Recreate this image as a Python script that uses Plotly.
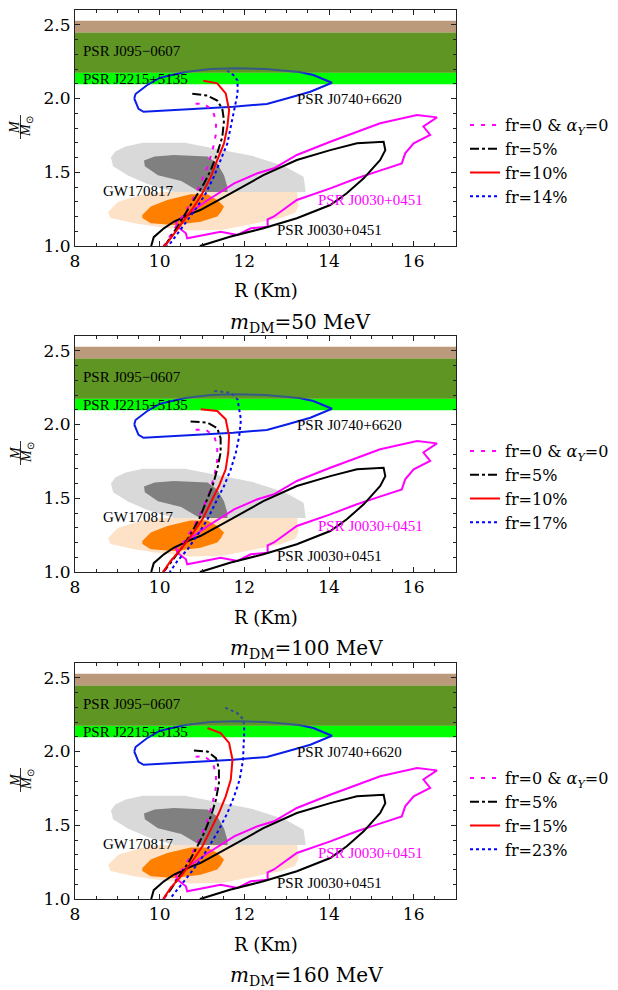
import plotly.graph_objects as go

FONT = "Liberation Serif, Times New Roman, serif"
FONT_W = "DejaVu Serif, Liberation Serif, serif"

# ---------------- data ----------------
R_RANGE = [8, 17]
M_RANGE = [1.0, 2.6]

BAND_BROWN = [2.445, 2.527]
BAND_OLIVE = [2.175, 2.445]
BAND_GREEN = [2.097, 2.175]

GW_LGRAY_R = [8.85, 8.90, 9.24, 9.71, 10.34, 13.45, 13.40, 12.95, 12.20, 11.35, 10.60, 9.60, 9.20, 8.95, 8.85]
GW_LGRAY_M = [1.60, 1.54, 1.48, 1.42, 1.366, 1.366, 1.47, 1.54, 1.61, 1.66, 1.70, 1.70, 1.675, 1.64, 1.60]

GW_DGRAY_R = [9.63, 9.65, 9.96, 10.51, 10.95, 11.60, 11.60, 11.52, 11.36, 11.13, 10.34, 9.88, 9.63]
GW_DGRAY_M = [1.58, 1.54, 1.48, 1.44, 1.366, 1.366, 1.40, 1.48, 1.56, 1.606, 1.617, 1.606, 1.58]

GW_LORANGE_R = [8.78, 8.84, 9.40, 9.95, 10.73, 11.50, 12.06, 12.85, 13.20, 13.28, 13.25, 10.05, 9.55, 9.02, 8.78]
GW_LORANGE_M = [1.23, 1.19, 1.155, 1.13, 1.105, 1.11, 1.142, 1.188, 1.225, 1.27, 1.366, 1.366, 1.345, 1.30, 1.23]

GW_ORANGE_R = [9.59, 9.79, 10.18, 10.73, 11.13, 11.36, 11.52, 11.45, 11.36, 10.97, 10.34, 9.79, 9.59, 9.59]
GW_ORANGE_M = [1.21, 1.267, 1.312, 1.350, 1.350, 1.312, 1.267, 1.23, 1.20, 1.165, 1.142, 1.154, 1.19, 1.21]

J0740_R = [9.40, 9.43, 9.70, 10.0, 10.6, 11.2, 11.8, 12.5, 13.3, 13.63, 14.07, 13.79, 13.56, 13.0, 12.53, 11.74, 10.5, 9.62, 9.50, 9.40]
J0740_M = [2.00, 2.03, 2.09, 2.14, 2.18, 2.20, 2.205, 2.20, 2.18, 2.159, 2.107, 2.076, 2.046, 2.0, 1.963, 1.944, 1.925, 1.91, 1.93, 2.00]

J0030_MAG_R = [10.38, 10.58, 11.13, 11.76, 12.31, 12.70, 13.24, 14.03, 15.21, 16.08, 16.55, 16.23, 16.39, 16.00, 15.80,
               15.72, 15.13, 14.66, 14.03, 13.24, 12.70, 12.55, 12.55, 12.15, 11.84, 11.44, 11.05, 10.65, 10.62, 10.42, 10.38]
J0030_MAG_M = [1.165, 1.20, 1.31, 1.425, 1.493, 1.527, 1.617, 1.707, 1.832, 1.888, 1.872, 1.81, 1.753, 1.696, 1.628,
               1.56, 1.504, 1.459, 1.391, 1.312, 1.20, 1.18, 1.13, 1.12, 1.075, 1.097, 1.075, 1.052, 1.086, 1.131, 1.165]

J0030_BLK_R = [9.80, 9.83, 9.86, 10.10, 10.34, 10.74, 10.96, 11.70, 12.45, 13.24, 14.03, 14.66, 15.29, 15.33, 15.21,
               14.82, 14.42, 14.03, 13.24, 12.45, 11.66, 11.03, 10.95]
J0030_BLK_M = [1.0, 1.03, 1.06, 1.12, 1.166, 1.22, 1.244, 1.36, 1.48, 1.583, 1.65, 1.696, 1.707, 1.65, 1.583,
               1.459, 1.357, 1.278, 1.188, 1.12, 1.063, 1.007, 1.0]

# panel 1 (m_DM = 50 MeV)
P1_MAG_R = [10.85, 11.05, 11.25, 11.33, 11.33, 11.25, 11.13, 10.97, 10.77, 10.58, 10.34, 10.14, 10.10]
P1_MAG_M = [1.964, 1.964, 1.92, 1.85, 1.76, 1.65, 1.538, 1.425, 1.31, 1.222, 1.108, 1.018, 1.0]
P1_BLK_R = [10.77, 11.13, 11.36, 11.48, 11.52, 11.48, 11.36, 11.21, 11.05, 10.85, 10.66, 10.42, 10.18, 10.12]
P1_BLK_M = [2.032, 2.02, 1.986, 1.93, 1.85, 1.74, 1.628, 1.515, 1.425, 1.335, 1.244, 1.131, 1.03, 1.0]
P1_RED_R = [11.03, 11.36, 11.56, 11.64, 11.60, 11.52, 11.36, 11.21, 11.01, 10.81, 10.58, 10.34, 10.14, 10.08]
P1_RED_M = [2.121, 2.103, 2.035, 1.922, 1.81, 1.696, 1.583, 1.47, 1.357, 1.267, 1.176, 1.085, 1.006, 1.0]
P1_BLU_R = [11.59, 11.74, 11.84, 11.84, 11.76, 11.68, 11.60, 11.44, 11.28, 11.09, 10.89, 10.66, 10.42, 10.22, 10.18]
P1_BLU_M = [2.19, 2.16, 2.122, 2.032, 1.922, 1.81, 1.696, 1.583, 1.47, 1.357, 1.267, 1.176, 1.085, 1.006, 1.0]

# panel 2 (m_DM = 100 MeV)
P2_MAG_R = [10.85, 11.09, 11.29, 11.36, 11.36, 11.29, 11.17, 11.01, 10.81, 10.58, 10.34, 10.14, 10.10]
P2_MAG_M = [1.964, 1.964, 1.92, 1.85, 1.76, 1.65, 1.538, 1.425, 1.31, 1.21, 1.108, 1.018, 1.0]
P2_BLK_R = [10.73, 11.13, 11.36, 11.44, 11.44, 11.36, 11.25, 11.09, 10.93, 10.73, 10.50, 10.26, 10.10, 10.08]
P2_BLK_M = [2.02, 2.013, 1.975, 1.907, 1.81, 1.696, 1.583, 1.47, 1.357, 1.256, 1.154, 1.063, 1.006, 1.0]
P2_RED_R = [10.97, 11.36, 11.56, 11.64, 11.62, 11.56, 11.40, 11.21, 11.01, 10.77, 10.50, 10.26, 10.10, 10.08]
P2_RED_M = [2.103, 2.092, 2.035, 1.922, 1.81, 1.696, 1.583, 1.47, 1.357, 1.256, 1.154, 1.075, 1.006, 1.0]
P2_BLU_R = [11.29, 11.68, 11.84, 11.92, 11.88, 11.80, 11.68, 11.52, 11.32, 11.13, 10.93, 10.66, 10.42, 10.26, 10.24]
P2_BLU_M = [2.227, 2.216, 2.17, 2.032, 1.922, 1.81, 1.696, 1.583, 1.47, 1.357, 1.267, 1.154, 1.075, 1.006, 1.0]

# panel 3 (m_DM = 160 MeV)
P3_MAG_R = [10.85, 11.05, 11.25, 11.33, 11.33, 11.25, 11.13, 10.97, 10.77, 10.58, 10.34, 10.14, 10.10]
P3_MAG_M = [1.964, 1.968, 1.925, 1.85, 1.76, 1.65, 1.538, 1.425, 1.31, 1.222, 1.108, 1.018, 1.0]
P3_BLK_R = [10.81, 11.13, 11.33, 11.40, 11.40, 11.33, 11.21, 11.05, 10.89, 10.70, 10.46, 10.26, 10.10, 10.08]
P3_BLK_M = [2.007, 2.0, 1.955, 1.885, 1.787, 1.674, 1.56, 1.448, 1.357, 1.256, 1.154, 1.063, 1.006, 1.0]
P3_RED_R = [11.13, 11.44, 11.64, 11.72, 11.68, 11.56, 11.40, 11.21, 11.01, 10.77, 10.50, 10.26, 10.10, 10.08]
P3_RED_M = [2.159, 2.125, 2.058, 1.945, 1.81, 1.696, 1.583, 1.47, 1.357, 1.256, 1.154, 1.075, 1.006, 1.0]
P3_BLU_R = [11.55, 11.82, 11.98, 12.0, 11.98, 11.97, 11.89, 11.76, 11.60, 11.40, 11.17, 10.97, 10.70, 10.46, 10.26, 10.24]
P3_BLU_M = [2.297, 2.263, 2.218, 2.14, 2.026, 1.944, 1.81, 1.696, 1.583, 1.47, 1.357, 1.267, 1.165, 1.075, 1.006, 1.0]

LEGEND_P1 = ["fr=0 &amp; <i>α<sub>Y</sub></i>=0", "fr=5%", "fr=10%", "fr=14%"]
LEGEND_P2 = ["fr=0 &amp; <i>α<sub>Y</sub></i>=0", "fr=5%", "fr=10%", "fr=17%"]
LEGEND_P3 = ["fr=0 &amp; <i>α<sub>Y</sub></i>=0", "fr=5%", "fr=15%", "fr=23%"]
TITLES = ["<i>m</i><sub>DM</sub>=50 MeV", "<i>m</i><sub>DM</sub>=100 MeV", "<i>m</i><sub>DM</sub>=160 MeV"]

LABEL_TEXT = ["PSR J095−0607", "PSR J2215+5135", "PSR J0740+6620", "GW170817", "PSR J0030+0451", "PSR J0030+0451"]
LABEL_R = [8.15, 8.15, 13.2, 8.62, 13.7, 12.72]
LABEL_M = [2.32, 2.135, 2.0, 1.375, 1.31, 1.11]
LABEL_COLOR = ["black", "black", "black", "black", "#ff00ff", "black"]

PANELS = [
    (P1_MAG_R, P1_MAG_M, P1_BLK_R, P1_BLK_M, P1_RED_R, P1_RED_M, P1_BLU_R, P1_BLU_M, LEGEND_P1),
    (P2_MAG_R, P2_MAG_M, P2_BLK_R, P2_BLK_M, P2_RED_R, P2_RED_M, P2_BLU_R, P2_BLU_M, LEGEND_P2),
    (P3_MAG_R, P3_MAG_M, P3_BLK_R, P3_BLK_M, P3_RED_R, P3_RED_M, P3_BLU_R, P3_BLU_M, LEGEND_P3),
]

# ---------------- layout constants ----------------
# the page body has an 8px margin; positions below are page pixels
OFF = 8
W, H = 618 - OFF, 990 - OFF
X_LEFT, X_RIGHT = 75, 456
PANEL_TOP = [10, 336, 663]
PANEL_BOT = [246, 572, 899]


def px_x(p):
    return (p - OFF) / W


def px_y(p):
    return 1 - (p - OFF) / H


C_BROWN = "#bb9a7b"
C_OLIVE = "#5f9623"
C_GREEN = "#00ff00"

fig = go.Figure()


def band(lo_hi, color, xa, ya, opacity=1.0):
    lo, hi = lo_hi
    return go.Scatter(x=[R_RANGE[0], R_RANGE[1], R_RANGE[1], R_RANGE[0], R_RANGE[0]],
                      y=[lo, lo, hi, hi, lo], fill="toself", fillcolor=color, opacity=opacity,
                      mode="lines", line=dict(width=0, color=color), showlegend=False,
                      hoverinfo="skip", xaxis=xa, yaxis=ya)


def poly(R, M, color, xa, ya):
    return go.Scatter(x=R, y=M, fill="toself", fillcolor=color, mode="lines",
                      line=dict(width=0, color=color), showlegend=False,
                      hoverinfo="skip", xaxis=xa, yaxis=ya)


def contour(R, M, color, xa, ya):
    return go.Scatter(x=R, y=M, mode="lines", line=dict(width=2, color=color),
                      showlegend=False, hoverinfo="skip", xaxis=xa, yaxis=ya)


for i, p in enumerate(PANELS):
    xa = "x" if i == 0 else f"x{i+1}"
    ya = "y" if i == 0 else f"y{i+1}"
    lg = "legend" if i == 0 else f"legend{i+1}"
    magR, magM, blkR, blkM, redR, redM, bluR, bluM, names = p

    fig.add_trace(band(BAND_BROWN, C_BROWN, xa, ya))
    fig.add_trace(band(BAND_OLIVE, C_OLIVE, xa, ya))
    fig.add_trace(band(BAND_GREEN, C_GREEN, xa, ya))

    fig.add_trace(poly(GW_LGRAY_R, GW_LGRAY_M, "#d9d9d9", xa, ya))
    fig.add_trace(poly(GW_DGRAY_R, GW_DGRAY_M, "#808080", xa, ya))
    fig.add_trace(poly(GW_LORANGE_R, GW_LORANGE_M, "#fde2c8", xa, ya))
    fig.add_trace(poly(GW_ORANGE_R, GW_ORANGE_M, "#ff8000", xa, ya))

    fig.add_trace(contour(J0740_R, J0740_M, "#0a1ee8", xa, ya))
    fig.add_trace(contour(J0030_MAG_R, J0030_MAG_M, "#ff00ff", xa, ya))
    fig.add_trace(contour(J0030_BLK_R, J0030_BLK_M, "black", xa, ya))

    styles = [("#ff00ff", "4px,7px"), ("black", "dashdot"), ("#ff0000", "solid"), ("#0000ff", "3px,3px")]
    for (R, M), name, (col, dash) in zip([(magR, magM), (blkR, blkM), (redR, redM), (bluR, bluM)], names, styles):
        fig.add_trace(go.Scatter(x=R, y=M, mode="lines", name=name,
                                 line=dict(width=2, color=col, dash=dash),
                                 legend=lg, showlegend=True, hoverinfo="skip",
                                 xaxis=xa, yaxis=ya))

    # translucent olive overlay (lines under it look purple, as in the reference)
    fig.add_trace(band(BAND_OLIVE, C_OLIVE, xa, ya, opacity=0.5))

    for t, r, m, c in zip(LABEL_TEXT, LABEL_R, LABEL_M, LABEL_COLOR):
        fig.add_annotation(x=r, y=m, xref=xa, yref=ya, text=t, showarrow=False,
                           xanchor="left", yanchor="middle",
                           font=dict(family=FONT, size=15, color=c))

    ydom = [px_y(PANEL_BOT[i]), px_y(PANEL_TOP[i])]
    axis_common = dict(showline=True, linecolor="#222", linewidth=1, mirror="ticks",
                       ticks="inside", ticklen=5, tickwidth=1, tickcolor="#222",
                       showgrid=False, zeroline=False, automargin=False,
                       tickfont=dict(family=FONT_W, size=17, color="black"))
    fig.layout[("xaxis" if i == 0 else f"xaxis{i+1}")] = dict(
        domain=[px_x(X_LEFT), px_x(X_RIGHT)], range=R_RANGE, anchor=ya,
        tick0=8, dtick=2, minor=dict(dtick=0.5, ticks="inside", ticklen=3, tickcolor="#222"),
        **axis_common)
    fig.layout[("yaxis" if i == 0 else f"yaxis{i+1}")] = dict(
        domain=ydom, range=M_RANGE, anchor=xa, tick0=1.0, dtick=0.5, tickformat=".1f",
        minor=dict(dtick=0.1, ticks="inside", ticklen=3, tickcolor="#222"),
        **axis_common)

    fig.layout[lg] = dict(x=px_x(465), y=px_y(PANEL_TOP[i] + 98), xanchor="left", yanchor="top",
                          bgcolor="rgba(0,0,0,0)", itemwidth=30, tracegroupgap=0,
                          font=dict(family=FONT_W, size=16, color="black"))

    # axis title
    fig.add_annotation(x=px_x((X_LEFT + X_RIGHT) / 2), y=px_y(PANEL_BOT[i] + 45),
                       xref="paper", yref="paper", text="R (Km)", showarrow=False,
                       xanchor="center", yanchor="middle",
                       font=dict(family=FONT_W, size=18, color="black"))
    # panel caption
    fig.add_annotation(x=px_x(228), y=px_y(PANEL_BOT[i] + 77),
                       xref="paper", yref="paper", text=TITLES[i], showarrow=False,
                       xanchor="left", yanchor="middle",
                       font=dict(family=FONT_W, size=20, color="black"))
    # y-axis fraction label M / M_sun
    cy = PANEL_TOP[i] + 117
    fig.add_annotation(x=px_x(15), y=px_y(cy), xref="paper", yref="paper",
                       text="<i>M</i>", textangle=-90, showarrow=False,
                       xanchor="center", yanchor="middle",
                       font=dict(family=FONT, size=14, color="black"))
    fig.add_annotation(x=px_x(27), y=px_y(cy), xref="paper", yref="paper",
                       text="<i>M</i><sub>⊙</sub>", textangle=-90, showarrow=False,
                       xanchor="center", yanchor="middle",
                       font=dict(family=FONT, size=14, color="black"))
    fig.add_shape(type="line", xref="paper", yref="paper",
                  x0=px_x(20.5), x1=px_x(20.5), y0=px_y(cy + 12), y1=px_y(cy - 12),
                  line=dict(color="black", width=0.8))

fig.update_layout(width=W, height=H, margin=dict(l=0, r=0, t=0, b=0, autoexpand=False),
                  plot_bgcolor="white", paper_bgcolor="white", showlegend=True)

fig.write_html("out.html")
